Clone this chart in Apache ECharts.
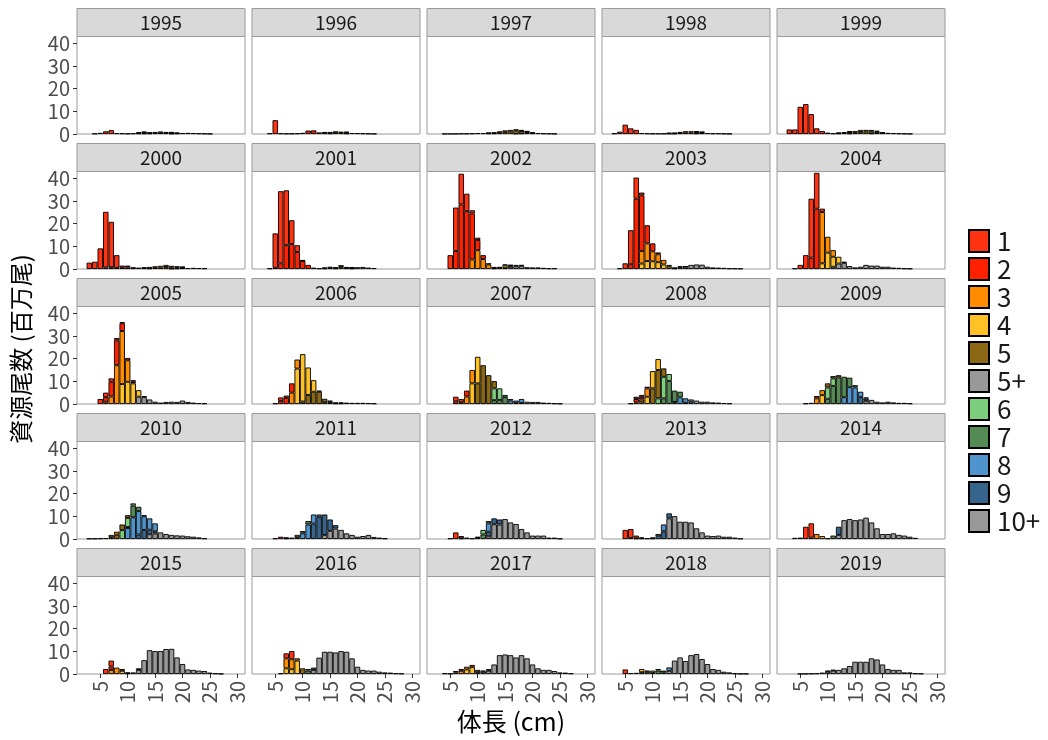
<!DOCTYPE html>
<html lang="ja">
<head>
<meta charset="UTF-8">
<title>体長組成</title>
<script src="https://cdn.jsdelivr.net/npm/echarts@6/dist/echarts.min.js"></script>
<style>html,body{margin:0;padding:0;background:#fff;}</style>
</head>
<body>
<div id="chart" style="width:1048px;height:740px;"></div>
<script>
// 年・年齢・体長階級・目盛り
const years = [1995, 1996, 1997, 1998, 1999, 2000, 2001, 2002, 2003, 2004,
               2005, 2006, 2007, 2008, 2009, 2010, 2011, 2012, 2013, 2014,
               2015, 2016, 2017, 2018, 2019];
const ages = ['1', '2', '3', '4', '5', '5+', '6', '7', '8', '9', '10+'];
const lengths = [1, 2, 3, 4, 5, 6, 7, 8, 9, 10, 11, 12, 13, 14, 15,
                 16, 17, 18, 19, 20, 21, 22, 23, 24, 25, 26, 27, 28, 29, 30];
const xTicks = [5, 10, 15, 20, 25, 30];
const yTicks = [0, 10, 20, 30, 40];

// 年齢別の色
const ageColors = {
  '1': '#FF3311', '2': '#FF2000', '3': '#FF8C00', '4': '#FFC125',
  '5': '#8B6914', '5+': '#999999', '6': '#7CCD7C', '7': '#548B54',
  '8': '#4F94CD', '9': '#36648B', '10+': '#999999'
};

// 各年の体長別資源尾数 (百万尾)  年齢: [開始体長cm, [値...]]
const d1995 = {
  '1': [4, [0.2, 0.5, 1.2, 1.7, 0.4, 0.3, 0.2]],
  '2': [11, [0.3, 0.5, 0.3]],
  '3': [12, [0.3, 0.4, 0.5, 0.5, 0.6, 0.5, 0.4, 0.3]],
  '4': [13, [0.3, 0.3, 0.4, 0.5, 0.4, 0.3]],
  '5+': [18, [0.2, 0.3, 0.4, 0.5, 0.4, 0.3, 0.2, 0.1]]
};
const d1996 = {
  '1': [4, [0.3, 6.1, 0.3, 0.2, 0.2]],
  '2': [9, [0.3, 0.5, 1.5, 1.6, 0.7, 0.5]],
  '3': [14, [0.4, 0.6, 0.7, 0.5, 0.4]],
  '4': [15, [0.3, 0.5, 0.5, 0.3]],
  '5+': [18, [0.3, 0.4, 0.4, 0.3, 0.2, 0.1]]
};
const d1997 = {
  '1': [4, [0.1, 0.1, 0.1, 0.2]],
  '2': [8, [0.2, 0.3, 0.4, 0.4, 0.3]],
  '3': [12, [0.3, 0.5, 0.7, 0.8, 0.8, 0.7, 0.5, 0.3]],
  '4': [13, [0.3, 0.5, 0.8, 1.0, 1.2, 1.0, 0.6, 0.4]],
  '5+': [17, [0.2, 0.3, 0.4, 0.4, 0.4, 0.3, 0.2, 0.1]]
};
const d1998 = {
  '1': [3, [0.3, 1.0, 4.1, 2.5, 1.8, 0.4, 0.3, 0.2]],
  '2': [11, [0.2, 0.2, 0.3]],
  '3': [13, [0.2, 0.4, 0.5, 0.6, 0.6, 0.5, 0.3]],
  '4': [14, [0.2, 0.4, 0.6, 0.6, 0.5, 0.3]],
  '5+': [18, [0.3, 0.4, 0.4, 0.3, 0.3, 0.2, 0.1]]
};
const d1999 = {
  '1': [3, [2.0, 2.0, 12.0, 13.2, 8.8, 2.5, 1.3, 0.6]],
  '2': [11, [0.3, 0.3, 0.4, 0.3]],
  '3': [12, [0.3, 0.4, 0.6, 0.8, 0.9, 0.8, 0.6, 0.4]],
  '4': [14, [0.3, 0.5, 0.9, 1.0, 0.9, 0.6, 0.3]],
  '5+': [18, [0.3, 0.4, 0.5, 0.5, 0.4, 0.3, 0.2, 0.1]]
};
const d2000 = {
  '1': [3, [2.8, 3.2, 9.1, 24.5, 20.0, 5.6, 1.0, 0.8, 0.2]],
  '2': [6, [0.7, 0.8, 0.5, 0.5, 0.7, 0.4, 0.6, 0.3]],
  '3': [13, [0.4, 0.6, 0.7, 0.8, 0.9, 0.7, 0.5, 0.3]],
  '4': [14, [0.3, 0.5, 0.6, 0.9, 0.5, 0.4, 0.3]],
  '5+': [18, [0.2, 0.3, 0.4, 0.4, 0.5, 0.4, 0.3]]
};
const d2001 = {
  '1': [4, [0.3, 15.2, 31.8, 24.2, 10.5, 3.0, 0.5]],
  '2': [5, [0.5, 2.5, 10.5, 11.0, 7.5, 3.5, 1.8, 0.6, 0.3, 0.3]],
  '3': [14, [0.3, 0.6, 0.5, 0.8, 0.5, 0.3]],
  '4': [15, [0.4, 0.3, 0.9, 0.4, 0.2]],
  '5+': [19, [0.3, 0.8, 0.9, 0.6, 0.4]]
};
const d2002 = {
  '1': [5, [6.1, 19.2, 13.5, 7.7, 1.4, 1.0]],
  '2': [6, [7.9, 28.5, 25.5, 20.3, 4.5, 1.7, 0.5]],
  '3': [9, [4.2, 8.3, 4.4, 2.0, 0.6, 0.4, 0.4, 0.3]],
  '4': [13, [0.3, 0.5, 1.2, 0.5, 0.6, 0.4]],
  '5+': [15, [0.4, 1.0, 1.2, 1.4, 0.8, 0.7, 0.7, 0.5, 0.3, 0.3]]
};
const d2003 = {
  '1': [4, [0.3, 2.5, 15.0, 9.3, 1.2]],
  '2': [6, [2.1, 31.0, 24.6, 8.0, 3.5, 0.8]],
  '3': [8, [5.5, 7.8, 4.4, 3.5, 2.0, 0.8]],
  '4': [8, [2.4, 3.5, 3.4, 3.0, 2.0, 1.0, 0.3, 0.4, 0.2]],
  '5+': [14, [0.3, 0.8, 1.0, 1.8, 2.0, 1.9, 1.0, 0.7, 0.6, 0.5, 0.3, 0.3, 0.2]]
};
const d2004 = {
  '1': [4, [0.3, 1.8, 6.1, 26.0, 15.8]],
  '2': [7, [5.0, 26.6, 1.5]],
  '3': [9, [22.6, 7.0, 2.9]],
  '4': [9, [2.5, 7.2, 4.4, 3.0, 0.5]],
  '5+': [11, [1.0, 2.4, 2.7, 1.3, 0.7, 1.0, 1.8, 1.5, 1.5, 1.0, 1.0, 0.6, 0.5, 0.3, 0.2]]
};
const d2005 = {
  '1': [5, [2.2, 2.0, 1.5, 1.0, 0.5]],
  '2': [6, [2.0, 6.5, 11.0, 3.4, 1.0, 0.7]],
  '3': [6, [1.0, 3.3, 17.1, 23.4, 9.5, 0.7]],
  '4': [9, [8.8, 9.8, 9.1, 2.9, 0.5]],
  '5+': [12, [3.2, 3.0, 2.0, 1.0, 0.6, 0.9, 1.0, 0.9, 1.5, 0.9, 0.6, 0.4, 0.3]]
};
const d2006 = {
  '1': [5, [0.3, 1.5, 1.0]],
  '2': [6, [1.4, 2.7, 4.1]],
  '3': [8, [5.0, 4.0]],
  '4': [9, [15.6, 20.9, 12.1, 5.1, 0.5]],
  '5': [10, [1.1, 4.0, 5.4, 5.4, 1.5, 0.5]],
  '6': [14, [0.8, 0.6, 0.4]],
  '7': [15, [0.4, 0.3, 0.3]],
  '5+': [17, [0.4, 0.6, 0.5, 0.5, 0.5, 0.4, 0.3]]
};
const d2007 = {
  '1': [6, [2.0, 1.4]],
  '2': [6, [1.2, 0, 2.6]],
  '3': [7, [0.8, 3.3, 5.9]],
  '4': [9, [9.1, 11.7]],
  '5': [10, [9.1, 17.1, 12.7, 3.2]],
  '6': [13, [5.2, 5.1, 1.0]],
  '7': [13, [1.7, 1.8, 3.0, 0.7]],
  '8': [16, [1.5, 1.0, 1.7]],
  '9': [17, [0.5, 0.5]],
  '5+': [19, [1.0, 0.9, 0.9, 0.6, 0.5, 0.3, 0.2]]
};
const d2008 = {
  '1': [7, [1.0, 1.0, 0.7]],
  '2': [6, [0.3, 1.5, 1.0]],
  '3': [7, [0.7, 1.0, 3.7]],
  '4': [8, [1.0, 3.2, 7.6, 4.8]],
  '5': [10, [6.9, 12.5, 3.7]],
  '6': [11, [2.5, 9.5, 3.0]],
  '7': [12, [2.5, 10.2, 5.0, 2.5]],
  '8': [14, [0.9, 2.9, 2.0, 1.0]],
  '9': [16, [0.5]],
  '5+': [17, [1.0, 1.5, 1.0, 1.0, 0.7, 0.6, 0.4, 0.3]]
};
const d2009 = {
  '1': [8, [1.0]],
  '2': [6, [0.3, 0.5]],
  '3': [8, [2.5, 2.2]],
  '4': [9, [3.9]],
  '5': [10, [1.8, 1.0, 1.0]],
  '6': [10, [5.0, 3.3]],
  '7': [10, [2.3, 8.0, 11.7, 9.0, 4.2, 1.0]],
  '8': [13, [3.0, 7.4, 7.3, 2.4, 0.5]],
  '9': [16, [3.0, 1.0]],
  '10+': [17, [1.4, 1.8, 1.0, 0.7, 1.0, 0.7, 0.5, 0.5, 0.3]]
};
const d2010 = {
  '1': [3, [0.2, 0.2, 0.3, 0.4]],
  '3': [7, [1.0, 1.3]],
  '5': [7, [0.8, 1.9, 2.5, 1.2]],
  '6': [9, [3.9, 4.0, 1.0]],
  '7': [10, [0.5, 5.1, 1.9, 0.5]],
  '8': [10, [4.8, 9.6, 10.3, 6.0, 5.0, 3.5]],
  '9': [12, [2.0, 4.0, 2.0, 1.0]],
  '10+': [14, [2.1, 2.4, 2.9, 2.2, 1.8, 1.6, 1.5, 1.2, 1.0, 0.7, 0.3]]
};
const d2011 = {
  '1': [5, [0.3, 1.0, 0.4]],
  '3': [7, [0.3, 0.6, 1.0]],
  '5': [9, [0.8]],
  '7': [10, [1.0, 1.5]],
  '8': [10, [2.5, 6.4, 4.0, 1.0]],
  '9': [12, [6.8, 9.8, 9.0, 5.0, 1.5]],
  '10+': [14, [1.8, 3.6, 4.6, 4.0, 2.5, 1.8, 1.0, 1.3, 1.8, 0.9, 0.6, 0.3]]
};
const d2012 = {
  '1': [5, [0.3, 2.9, 1.0]],
  '3': [7, [0.3, 0.6, 0.3]],
  '5': [10, [0.5]],
  '6': [11, [2.0]],
  '7': [10, [0.5, 2.0, 1.0]],
  '8': [12, [3.7]],
  '9': [12, [2.0, 2.6, 2.2]],
  '10+': [12, [1.2, 6.5, 6.4, 8.8, 7.3, 6.6, 4.4, 2.9, 1.5, 1.5, 1.5, 0.6, 0.6, 0.2]]
};
const d2013 = {
  '1': [5, [4.0, 3.9, 1.2, 0.4]],
  '3': [6, [0.5, 0.3, 0.3]],
  '7': [10, [0.3, 1.0]],
  '8': [11, [1.2, 3.0]],
  '9': [12, [3.4, 2.2]],
  '10+': [9, [0.3, 0.3, 0, 0, 9.1, 10.1, 7.6, 7.6, 7.3, 4.7, 2.9, 1.5, 1.3, 1.5, 1.0, 1.0, 0.6, 0.2]]
};
const d2014 = {
  '1': [4, [0.5, 0.6, 5.4, 6.3]],
  '3': [7, [0.6, 2.2]],
  '4': [9, [1.3, 0.3]],
  '7': [11, [1.5]],
  '9': [12, [3.6]],
  '10+': [12, [1.8, 8.3, 8.8, 8.3, 8.6, 9.4, 7.3, 4.7, 2.2, 2.2, 2.5, 1.8, 1.5, 1.0, 0.5]]
};
const d2015 = {
  '1': [6, [2.2, 2.6]],
  '2': [7, [1.5]],
  '3': [7, [1.8, 2.8, 0.8]],
  '4': [9, [1.4]],
  '5': [10, [0.4]],
  '7': [10, [0.3, 0.7]],
  '9': [12, [0.7]],
  '10+': [12, [1.8, 6.1, 10.5, 10.1, 10.1, 11.0, 11.1, 7.3, 4.4, 2.0, 1.8, 1.5, 1.3, 0.6, 0.3, 0.1]]
};
const d2016 = {
  '1': [6, [0.3, 2.2, 3.6]],
  '3': [7, [4.4, 4.4, 1.0]],
  '4': [7, [2.5, 2.1, 5.9]],
  '5': [10, [2.5]],
  '6': [11, [0.7]],
  '7': [11, [1.5]],
  '9': [12, [1.0]],
  '10+': [12, [1.8, 7.2, 9.8, 9.8, 9.5, 10.1, 9.8, 6.9, 3.2, 1.8, 1.5, 1.5, 1.0, 0.7, 0.6, 0.3, 0.2]]
};
const d2017 = {
  '1': [4, [0.3, 0.2, 0.6, 0.8]],
  '3': [6, [0.7, 1.4, 1.2, 1.0]],
  '4': [8, [2.0, 3.0]],
  '5': [10, [1.0]],
  '6': [11, [0.5]],
  '7': [10, [0.8, 1.0]],
  '9': [12, [0.8]],
  '10+': [12, [1.4, 4.2, 8.3, 8.6, 8.3, 7.3, 8.3, 6.9, 4.2, 2.5, 1.8, 1.8, 1.3, 0.7, 0.6, 0.3]]
};
const d2018 = {
  '1': [5, [2.0, 0.4, 0.5]],
  '4': [8, [1.4, 0.5]],
  '5': [8, [0.8, 1.0]],
  '6': [10, [1.0, 0.7]],
  '7': [10, [0.5, 1.5, 0.8]],
  '8': [12, [0.7, 1.5]],
  '10+': [13, [1.4, 5.9, 7.3, 5.7, 8.3, 8.8, 6.6, 4.4, 2.2, 1.8, 1.0, 0.7, 0.3, 0.1, 0.1]]
};
const d2019 = {
  '9': [10, [0.5, 0.3]],
  '10+': [5, [0.1, 0.1, 0.2, 0.3, 0.6, 1.0, 1.5, 1.8, 2.5, 3.5, 5.4, 5.4, 5.4, 6.9, 6.4, 4.2, 2.2, 1.8, 1.8, 0.7, 0.7, 0.3, 0.2]]
};

const yearData = {
  1995: d1995, 1996: d1996, 1997: d1997, 1998: d1998, 1999: d1999,
  2000: d2000, 2001: d2001, 2002: d2002, 2003: d2003, 2004: d2004,
  2005: d2005, 2006: d2006, 2007: d2007, 2008: d2008, 2009: d2009,
  2010: d2010, 2011: d2011, 2012: d2012, 2013: d2013, 2014: d2014,
  2015: d2015, 2016: d2016, 2017: d2017, 2018: d2018, 2019: d2019
};

// レイアウト
const FONT = '"Noto Sans CJK JP", "Noto Sans", sans-serif';
const panelW = 168, panelH = 97.5, stripH = 28;
const xMin = 0.75, xMax = 31.41;
const pxPerCm = panelW / (xMax - xMin);

const grids = [], xAxes = [], yAxes = [], series = [], graphics = [];
const stackOrder = ages.slice().reverse(); // 高齢が下

years.forEach(function (yr, k) {
  const col = k % 5, row = Math.floor(k / 5);
  const left = 77 + col * 175, top = 36.5 + row * 135;

  grids.push({
    left: left, top: top, width: panelW, height: panelH,
    show: true, borderColor: '#9a9a9a', borderWidth: 1, backgroundColor: '#fff',
    containLabel: false, outerBoundsMode: 'none'
  });
  xAxes.push({
    gridIndex: k, type: 'value', min: xMin, max: xMax,
    splitLine: { show: false }, axisLine: { show: false },
    axisTick: { show: row === 4, length: 4, customValues: xTicks, lineStyle: { color: '#333' } },
    axisLabel: { show: row === 4, customValues: xTicks, rotate: 90, margin: 7,
                 fontSize: 20, color: '#4d4d4d', fontFamily: FONT }
  });
  yAxes.push({
    gridIndex: k, type: 'value', min: 0, max: 43,
    splitLine: { show: false }, axisLine: { show: false },
    axisTick: { show: col === 0, length: 4, customValues: yTicks, lineStyle: { color: '#333' } },
    axisLabel: { show: col === 0, customValues: yTicks, margin: 7,
                 fontSize: 20, color: '#4d4d4d', fontFamily: FONT }
  });

  // ストリップ
  graphics.push({
    type: 'rect', silent: true,
    shape: { x: left, y: top - stripH, width: panelW, height: stripH },
    style: { fill: '#d9d9d9', stroke: '#9a9a9a', lineWidth: 1 }
  });
  graphics.push({
    type: 'text', silent: true, x: left + panelW / 2, y: top - stripH / 2,
    style: { text: String(yr), align: 'center', verticalAlign: 'middle',
             fontSize: 19, fontFamily: FONT, fill: '#1a1a1a' }
  });

  const d = yearData[yr];
  stackOrder.forEach(function (a) {
    if (!d[a]) return;
    const from = d[a][0], vals = d[a][1];
    // [値, 体長] の順にして値の次元で積み上げる
    const pts = lengths.map(function (L) {
      const i = L - from;
      const v = (i >= 0 && i < vals.length) ? vals[i] : 0;
      return [v > 0 ? v : null, L];
    });
    series.push({
      name: a, type: 'bar', xAxisIndex: k, yAxisIndex: k,
      stack: 's' + yr, barWidth: pxPerCm, data: pts,
      encode: { x: 1, y: 0 },
      itemStyle: { color: ageColors[a], borderColor: '#000', borderWidth: 0.9 },
      emphasis: { disabled: true }
    });
  });
});

// 軸タイトル
graphics.push({
  type: 'text', silent: true, x: 511, y: 721,
  style: { text: '体長 (cm)', align: 'center', verticalAlign: 'middle',
           fontSize: 25, fontFamily: FONT, fill: '#000' }
});
graphics.push({
  type: 'text', silent: true, x: 21, y: 349, rotation: Math.PI / 2,
  style: { text: '資源尾数 (百万尾)', align: 'center', verticalAlign: 'middle',
           fontSize: 24, fontFamily: FONT, fill: '#000' }
});

const chart = echarts.init(document.getElementById('chart'));
chart.setOption({
  animation: false,
  backgroundColor: '#fff',
  grid: grids,
  xAxis: xAxes,
  yAxis: yAxes,
  graphic: graphics,
  legend: {
    data: ages, orient: 'vertical', left: 968, top: 228, padding: 0,
    icon: 'rect', itemWidth: 20, itemHeight: 22, itemGap: 2,
    selectedMode: false,
    textStyle: { fontSize: 26, lineHeight: 22, color: '#1a1a1a', fontFamily: FONT,
                 padding: [0, 0, 0, 3] }
  },
  series: series
});
</script>
</body>
</html>
